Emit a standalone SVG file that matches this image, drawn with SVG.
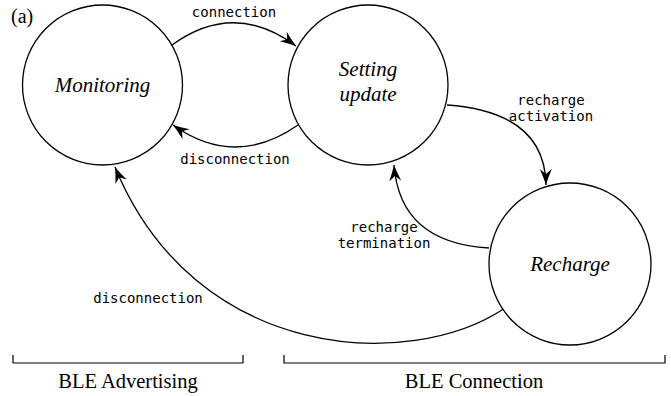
<svg xmlns="http://www.w3.org/2000/svg" width="671" height="396" viewBox="0 0 671 396">
<style>
.node{fill:#fff;stroke:#000;stroke-width:1.3}
.lbl{font-style:italic;font-size:21px;text-anchor:middle;fill:#000}
.edge{fill:none;stroke:#000;stroke-width:1.3;marker-end:url(#ah)}
.el{font-size:14px;text-anchor:middle;fill:#000}
.br{fill:none;stroke:#000;stroke-width:1.2}
.bt{font-size:20.5px;text-anchor:middle;fill:#000}
</style>
<defs>
<marker id="ah" markerUnits="userSpaceOnUse" markerWidth="20" markerHeight="14" viewBox="-17 -7 18 14" refX="0" refY="0" orient="auto">
<path d="M0,0 Q-8,-2.5 -16,-6 L-11,0 L-16,6 Q-8,2.5 0,0 Z" fill="#000"/>
</marker>
</defs>
<rect width="671" height="396" fill="#fff"/>
<text x="11" y="23" font-family="'Times New Roman','Liberation Serif',Tinos,'DejaVu Serif',serif" font-size="20px">(a)</text>
<g id="connectors">
<path class="edge" d="M172,45 Q234,0 296,46"/>
<path class="edge" d="M298,125 Q235,169 173,125"/>
<path class="edge" d="M447,105 Q545,112 546,185"/>
<path class="edge" d="M489,248 Q400,243 394,165"/>
<path class="edge" d="M505,308 C410,372 195,362 115,167"/>
<g font-family="'DejaVu Sans Mono',monospace">
<text class="el" x="234" y="17">connection</text>
<text class="el" x="235" y="164">disconnection</text>
<text class="el" x="551" y="105">recharge</text>
<text class="el" x="551" y="121">activation</text>
<text class="el" x="384" y="232">recharge</text>
<text class="el" x="384" y="248">termination</text>
<text class="el" x="148" y="303">disconnection</text>
</g>
</g>
<g font-family="'Times New Roman','Liberation Serif',Tinos,'DejaVu Serif',serif">
<g id="monitoring">
<circle class="node" cx="102.5" cy="85" r="80"/>
<text class="lbl" x="102.5" y="92">Monitoring</text>
</g>
<g id="setting-update">
<circle class="node" cx="368" cy="85" r="80"/>
<text class="lbl" x="368" y="76">Setting</text>
<text class="lbl" x="368" y="101">update</text>
</g>
<g id="recharge">
<circle class="node" cx="570" cy="264" r="81"/>
<text class="lbl" x="570" y="271">Recharge</text>
</g>
<g id="ble-advertising">
<path class="br" d="M13,355 V363 H243 V355"/>
<text class="bt" x="128" y="388">BLE Advertising</text>
</g>
<g id="ble-connection">
<path class="br" d="M284,355 V363 H665 V355"/>
<text class="bt" x="474" y="388">BLE Connection</text>
</g>
</g>
</svg>
